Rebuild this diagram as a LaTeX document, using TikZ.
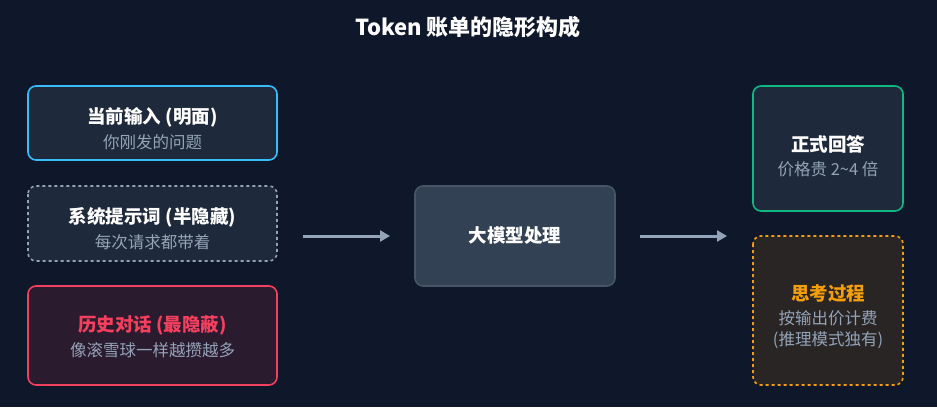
\documentclass[tikz,border=0pt]{standalone}
\usepackage{fontspec}
\setmainfont{Noto Sans CJK SC}
\usetikzlibrary{arrows.meta}
\definecolor{bg}{HTML}{0F172A}
\definecolor{card}{HTML}{1E293B}
\definecolor{mid}{HTML}{334155}
\definecolor{midb}{HTML}{475569}
\definecolor{sub}{HTML}{94A3B8}
\definecolor{blue}{HTML}{38BDF8}
\definecolor{red}{HTML}{F43F5E}
\definecolor{green}{HTML}{10B981}
\definecolor{orange}{HTML}{F59E0B}
\definecolor{redfill}{HTML}{2A1B2E}
\definecolor{orfill}{HTML}{292524}
\begin{document}
\begin{tikzpicture}[x=1pt,y=-1pt,
  box/.style={draw, line width=1.6pt, rounded corners=8pt},
  ttl/.style={font=\bfseries\fontsize{18.5}{22}\selectfont, text=white},
  sb/.style={font=\fontsize{16.5}{21}\selectfont, text=sub, align=center},
  arr/.style={draw=sub, line width=3pt, -{Triangle[length=10pt,width=11pt]}}]
\fill[bg] (0,0) rectangle (937,407);
\node[font=\bfseries\fontsize{22}{26}\selectfont, text=white] (title) at (468,27) {Token 账单的隐形构成};
\draw[box, draw=blue, fill=card] (28,86) rectangle (277,160);
\node[ttl] (a1) at (152.5,117) {当前输入 (明面)};
\node[sb] (a2) at (152.5,142) {你刚发的问题};
\draw[box, draw=sub, dashed, fill=card] (28,186) rectangle (277,261);
\node[ttl] (b1) at (152.5,217) {系统提示词 (半隐藏)};
\node[sb] (b2) at (152.5,242) {每次请求都带着};
\draw[box, draw=red, fill=redfill] (28,286) rectangle (277,385);
\node[ttl, text=red] (c1) at (152.5,325) {历史对话 (最隐蔽)};
\node[sb] (c2) at (152.5,350) {像滚雪球一样越攒越多};
\draw[box, draw=midb, fill=mid] (415,186) rectangle (615,286);
\node[ttl] (m) at (515,236) {大模型处理};
\draw[box, draw=green, fill=card] (753,86) rectangle (903,211);
\node[ttl] (r1) at (828,144) {正式回答};
\node[sb] (r2) at (828,169) {价格贵 2\textasciitilde4 倍};
\draw[box, draw=orange, dashed, fill=orfill] (753,236) rectangle (903,385);
\node[ttl, text=orange] (o1) at (828,293) {思考过程};
\node[sb] (o2) at (828,330) {按输出价计费\\(推理模式独有)};
\coordinate (p1) at (303,236); \coordinate (p2) at (390,236);
\coordinate (q1) at (640,236); \coordinate (q2) at (727,236);
\draw[arr] (p1) -- (p2);
\draw[arr] (q1) -- (q2);
\end{tikzpicture}
\end{document}
